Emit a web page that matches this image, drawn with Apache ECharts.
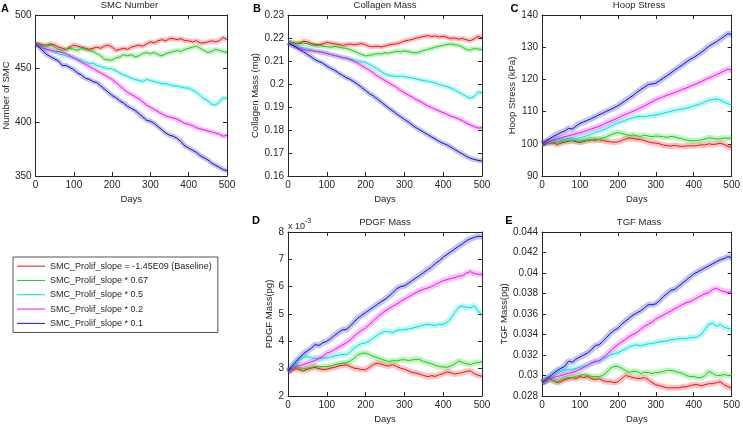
<!DOCTYPE html>
<html><head><meta charset="utf-8">
<script src="https://cdn.jsdelivr.net/npm/echarts@6/dist/echarts.min.js"></script>
<style>html,body{margin:0;padding:0;background:#fff}#c{width:743px;height:431px}</style>
</head><body><div id="c"></div>
<script>
// ---------------- DATA ----------------
const days = [0,10,20,30,40,50,60,70,80,90,100,110,120,130,140,150,160,170,180,190,200,210,220,230,240,250,260,270,280,290,300,310,320,330,340,350,360,370,380,390,400,410,420,430,440,450,460,470,480,490,500];
const seriesNames = ['SMC_Prolif_slope = -1.45E09 (Baseline)','SMC_Prolif_slope * 0.67','SMC_Prolif_slope * 0.5','SMC_Prolif_slope * 0.2','SMC_Prolif_slope * 0.1'];

// A: SMC Number
const smcBase = [473,473,472,472,473,472,470,469,468,470,472,471,470,469,468,469,470,469,471,472,470,467,468,469,468,470,471,472,471,473,475,474,476,477,476,478,478,477,478,476,476,475,476,474,474,475,476,475,476,479,477];
const smc067 = [473,472,471,471,472,470,468,467,468,469,468,467,469,468,467,466,464,462,459,458,458,460,461,463,462,463,461,462,464,465,464,465,463,462,464,465,466,467,466,468,469,470,471,469,467,465,466,468,467,466,465];
const smc05 = [473,471,469,468,467,466,464,463,462,461,460,459,458,456,455,455,453,452,451,450,450,448,446,444,443,441,440,439,438,440,439,438,437,436,436,435,434,434,433,432,432,430,428,425,422,420,417,416,419,423,422];
const smc02 = [473,471,469,468,467,466,466,465,464,462,460,458,456,454,452,450,448,446,444,442,440,437,434,431,428,426,424,422,419,416,414,412,410,408,406,405,404,403,401,399,398,397,395,394,393,392,391,390,389,387,388];
const smc01 = [473,470,466,463,461,459,457,453,453,451,449,446,444,441,440,438,437,434,431,428,425,423,420,418,415,413,411,408,405,402,401,399,396,393,390,388,387,385,382,378,376,374,372,369,367,365,362,360,358,356,355];
const smcTicks = [350,400,450,500];

// B: Collagen Mass (mg)
const colBase = [.2180,.2180,.2177,.2179,.2186,.2183,.2176,.2172,.2170,.2175,.2181,.2178,.2175,.2172,.2168,.2171,.2174,.2170,.2173,.2176,.2170,.2163,.2162,.2164,.2161,.2165,.2170,.2173,.2175,.2180,.2187,.2190,.2194,.2199,.2203,.2207,.2210,.2206,.2209,.2204,.2207,.2202,.2198,.2200,.2195,.2198,.2192,.2188,.2196,.2207,.2201];
const col067 = [.2180,.2179,.2176,.2175,.2178,.2175,.2170,.2166,.2168,.2165,.2162,.2160,.2163,.2160,.2157,.2155,.2150,.2143,.2135,.2128,.2122,.2125,.2128,.2132,.2130,.2136,.2134,.2138,.2142,.2140,.2144,.2141,.2137,.2135,.2140,.2146,.2150,.2155,.2160,.2164,.2168,.2172,.2174,.2170,.2168,.2160,.2150,.2147,.2155,.2152,.2150];
const col05 = [.2180,.2172,.2165,.2160,.2157,.2153,.2148,.2143,.2140,.2137,.2133,.2129,.2124,.2120,.2115,.2112,.2108,.2104,.2100,.2097,.2094,.2085,.2075,.2065,.2055,.2043,.2037,.2035,.2032,.2034,.2032,.2029,.2026,.2022,.2018,.2015,.2012,.2008,.2004,.1998,.1993,.1988,.1982,.1975,.1965,.1955,.1945,.1938,.1945,.1965,.1962];
const col02 = [.2180,.2170,.2162,.2155,.2150,.2147,.2145,.2142,.2140,.2137,.2133,.2128,.2124,.2120,.2115,.2112,.2106,.2098,.2090,.2080,.2070,.2060,.2048,.2035,.2025,.2015,.2005,.1995,.1985,.1972,.1962,.1952,.1943,.1932,.1925,.1915,.1905,.1898,.1890,.1882,.1875,.1868,.1860,.1855,.1848,.1840,.1830,.1822,.1815,.1808,.1810];
const col01 = [.2180,.2170,.2160,.2150,.2140,.2128,.2118,.2105,.2098,.2090,.2078,.2068,.2060,.2048,.2038,.2028,.2020,.2010,.1998,.1985,.1972,.1958,.1948,.1935,.1922,.1908,.1895,.1883,.1870,.1858,.1846,.1835,.1822,.1810,.1800,.1790,.1780,.1770,.1760,.1750,.1742,.1735,.1725,.1715,.1705,.1695,.1685,.1677,.1672,.1668,.1665];
const colTicks = [0.16,0.17,0.18,0.19,0.2,0.21,0.22,0.23];

// C: Hoop Stress (kPa)
const hoopBase = [100,100.1,100.3,100.2,99.8,100.2,100.5,100.8,101.0,100.6,100.4,100.7,101.0,101.2,101.1,101.3,101.0,100.8,100.6,100.5,100.6,101.0,101.5,101.8,101.7,101.4,101.3,101.0,100.6,100.3,100.2,100.0,99.6,99.4,99.3,99.5,99.3,99.2,99.3,99.4,99.3,99.5,99.7,99.6,100.0,99.8,99.9,100.2,99.8,99.2,98.9];
const hoop067 = [100,100.3,100.6,100.5,100.4,100.7,100.9,101.0,101.1,101.0,100.8,101.0,101.2,101.3,101.5,101.3,101.8,102.2,102.7,103.2,103.5,103.2,102.9,102.6,102.8,102.5,102.3,102.7,102.4,102.2,102.4,102.3,102.2,102.0,102.3,102.1,101.8,101.5,101.2,101.0,100.9,101.0,101.2,101.5,101.9,101.7,101.5,101.6,101.8,101.7,101.8];
const hoop05 = [100,100.4,100.8,101.0,101.2,101.3,101.5,101.6,101.6,101.7,101.8,102.2,102.6,103.0,103.5,103.9,104.3,104.8,105.4,106.0,106.5,106.9,107.3,107.7,108.1,108.4,108.5,108.4,108.6,108.8,109.0,109.2,109.5,109.8,110.1,110.4,110.6,110.8,111.0,111.4,111.8,112.1,112.5,113.0,113.5,113.7,114.0,113.6,113.0,112.4,112.1];
const hoop02 = [100,100.4,100.8,101.1,101.5,101.8,102.2,102.5,102.8,103.1,103.4,103.8,104.2,104.6,105.0,105.4,105.9,106.5,107.0,107.5,108.0,108.6,109.1,109.6,110.1,110.6,111.2,111.8,112.4,113.0,113.7,114.1,114.6,115.1,115.5,115.9,116.4,116.9,117.3,117.8,118.3,118.8,119.3,119.9,120.5,120.9,121.5,122.0,122.6,123.2,122.8];
const hoop01 = [100,100.8,101.6,102.3,102.9,103.5,104.0,104.8,104.6,105.5,106.3,106.8,107.3,107.8,108.4,109.0,109.5,110.1,110.6,111.2,111.8,112.6,113.4,114.2,115.0,116.0,116.8,117.6,118.4,118.6,118.8,119.6,120.4,121.2,122.0,122.9,123.7,124.5,125.4,126.2,126.8,127.6,128.4,129.3,130.3,131.0,131.7,132.5,133.3,134.2,134.0];
const hoopTicks = [90,100,110,120,130,140];

// D: PDGF Mass (pg), in units of 1e-3
const pdgfBase = [2.90,2.95,3.00,2.96,2.92,2.98,3.02,3.05,3.00,2.97,2.98,3.02,3.05,3.10,3.12,3.14,3.08,3.02,3.00,2.97,2.96,3.05,3.15,3.20,3.17,3.12,3.10,3.15,3.08,3.02,2.98,2.92,2.86,2.84,2.80,2.75,2.71,2.74,2.72,2.78,2.82,2.88,2.85,2.80,2.83,2.86,2.90,2.92,2.82,2.76,2.72];
const pdgf067 = [2.90,2.97,3.05,3.02,3.00,3.02,3.05,3.08,3.06,3.08,3.08,3.10,3.14,3.18,3.20,3.22,3.28,3.38,3.50,3.56,3.57,3.52,3.45,3.40,3.35,3.30,3.26,3.30,3.28,3.32,3.33,3.30,3.32,3.35,3.33,3.26,3.22,3.18,3.12,3.08,3.06,3.05,3.10,3.18,3.28,3.22,3.18,3.15,3.20,3.22,3.26];
const pdgf05 = [2.90,3.05,3.20,3.35,3.42,3.45,3.40,3.38,3.36,3.38,3.39,3.42,3.46,3.50,3.52,3.51,3.60,3.75,3.85,3.92,3.94,4.02,4.12,4.22,4.30,4.37,4.35,4.32,4.40,4.42,4.43,4.45,4.48,4.52,4.55,4.60,4.62,4.60,4.58,4.62,4.62,4.70,4.85,5.05,5.25,5.29,5.25,5.23,5.30,5.10,4.99];
const pdgf02 = [2.90,3.00,3.08,3.12,3.15,3.20,3.25,3.30,3.38,3.45,3.57,3.62,3.70,3.78,3.86,3.94,4.05,4.18,4.30,4.40,4.49,4.62,4.75,4.88,5.00,5.11,5.20,5.28,5.36,5.45,5.54,5.62,5.70,5.78,5.85,5.91,5.95,6.00,6.08,6.15,6.22,6.26,6.30,6.33,6.38,6.40,6.50,6.55,6.48,6.45,6.46];
const pdgf01 = [2.90,3.08,3.25,3.40,3.55,3.65,3.75,3.88,3.85,3.95,4.00,4.10,4.22,4.32,4.42,4.43,4.55,4.70,4.85,4.95,5.05,5.15,5.25,5.35,5.45,5.54,5.65,5.78,5.92,6.00,6.03,6.12,6.22,6.32,6.42,6.52,6.62,6.72,6.85,6.95,7.08,7.18,7.28,7.38,7.48,7.57,7.68,7.75,7.80,7.85,7.82];
const pdgfTicks = [2,3,4,5,6,7,8];

// E: TGF Mass (pg)
const tgfBase = [.0293,.0295,.0297,.0295,.0293,.0294,.0296,.0297,.0298,.0297,.0299,.0298,.0299,.0297,.0296,.0297,.0295,.0294,.0294,.0293,.0294,.0297,.0300,.0299,.0298,.0297,.0297,.0298,.0296,.0293,.0291,.0290,.0289,.0288,.0288,.0288,.0288,.0289,.0289,.0290,.0291,.0291,.0290,.0291,.0292,.0292,.0293,.0294,.0291,.0289,.0288];
const tgf067 = [.0293,.0294,.0296,.0295,.0294,.0296,.0297,.0298,.0298,.0299,.0300,.0301,.0300,.0299,.0299,.0299,.0300,.0303,.0307,.0309,.0309,.0307,.0305,.0303,.0304,.0304,.0302,.0303,.0303,.0302,.0303,.0303,.0304,.0305,.0305,.0304,.0303,.0302,.0300,.0299,.0299,.0298,.0298,.0300,.0304,.0302,.0300,.0300,.0301,.0300,.0300];
const tgf05 = [.0293,.0296,.0299,.0301,.0303,.0304,.0305,.0306,.0306,.0307,.0308,.0309,.0310,.0312,.0313,.0314,.0316,.0318,.0320,.0321,.0322,.0324,.0326,.0328,.0329,.0330,.0329,.0330,.0331,.0331,.0332,.0333,.0333,.0334,.0335,.0335,.0336,.0336,.0336,.0337,.0337,.0338,.0340,.0345,.0350,.0351,.0348,.0350,.0347,.0346,.0345];
const tgf02 = [.0293,.0295,.0297,.0298,.0299,.0300,.0301,.0302,.0303,.0304,.0306,.0308,.0310,.0312,.0314,.0314,.0317,.0320,.0324,.0327,.0330,.0333,.0335,.0338,.0340,.0342,.0345,.0348,.0350,.0352,.0355,.0357,.0359,.0361,.0363,.0365,.0367,.0369,.0371,.0372,.0374,.0376,.0378,.0380,.0381,.0384,.0385,.0383,.0382,.0381,.0382];
const tgf01 = [.0293,.0296,.0299,.0302,.0305,.0307,.0309,.0314,.0313,.0316,.0318,.0320,.0322,.0325,.0329,.0330,.0333,.0337,.0341,.0344,.0346,.0350,.0353,.0356,.0359,.0361,.0363,.0366,.0369,.0369,.0370,.0373,.0377,.0380,.0383,.0384,.0387,.0390,.0393,.0396,.0399,.0401,.0403,.0405,.0407,.0409,.0411,.0413,.0414,.0416,.0415];
const tgfTicks = [0.028,0.03,0.032,0.034,0.036,0.038,0.04,0.042,0.044];

const dayTicks = [0,100,200,300,400,500];

// ---------------- LAYOUT / STYLE ----------------
const FONT = '"Liberation Sans", Arial, Helvetica, sans-serif';
const INK = '#262626';
const colors = ['#ee1010','#18cc18','#00dede','#ee10ee','#1010cc'];
const panels = [
  {letter:'A', title:'SMC Number', yName:'Number of SMC', series:[smcBase,smc067,smc05,smc02,smc01], ticks:smcTicks, left:32, top:15, width:195, height:161, gap:22, band:5, lx:5, ly:8.5},
  {letter:'B', title:'Collagen Mass', yName:'Collagen Mass (mg)', series:[colBase,col067,col05,col02,col01], ticks:colTicks, left:288, top:15, width:194, height:161, gap:27, band:5, lx:257, ly:8.5},
  {letter:'C', title:'Hoop Stress', yName:'Hoop Stress (kPa)', series:[hoopBase,hoop067,hoop05,hoop02,hoop01], ticks:hoopTicks, left:542, top:15, width:194, height:161, gap:23, band:6, lx:514.5, ly:8.5},
  {letter:'D', title:'PDGF Mass', yName:'PDGF Mass(pg)', series:[pdgfBase,pdgf067,pdgf05,pdgf02,pdgf01], ticks:pdgfTicks, left:288, top:232, width:194, height:164, gap:13, band:6, lx:256, ly:220.5},
  {letter:'E', title:'TGF Mass', yName:'TGF Mass(pg)', series:[tgfBase,tgf067,tgf05,tgf02,tgf01], ticks:tgfTicks, left:542, top:232, width:194, height:164, gap:31, band:6, lx:509, ly:220.5}
];

const grids = [], xAxes = [], yAxes = [], series = [], graphics = [];
const lineAx = {show:true, onZero:false, lineStyle:{color:INK, width:1}};
const tickAx = {show:true, inside:true, length:4, lineStyle:{color:INK, width:1}};
const lblStyle = {fontSize:10, color:INK, fontFamily:FONT};

panels.forEach((p, i) => {
  grids.push({left:p.left, top:p.top, width:p.width, height:p.height, show:false});
  const xmin = dayTicks[0], xmax = dayTicks[dayTicks.length-1], xint = dayTicks[1]-dayTicks[0];
  xAxes.push({gridIndex:i, type:'value', position:'bottom', min:xmin, max:xmax, interval:xint,
    axisLine:lineAx, axisTick:tickAx, splitLine:{show:false},
    axisLabel:Object.assign({margin:4}, lblStyle),
    name:'Days', nameLocation:'middle', nameGap:18, nameTextStyle:{fontSize:9.5, color:INK, fontFamily:FONT}});
  xAxes.push({gridIndex:i, type:'value', position:'top', min:xmin, max:xmax, interval:xint,
    axisLine:lineAx, axisTick:tickAx, splitLine:{show:false}, axisLabel:{show:false}});
  const t = p.ticks;
  const ymin = t[0], ymax = t[t.length-1], yint = +(t[1]-t[0]).toFixed(6);
  yAxes.push({gridIndex:i, type:'value', position:'left', min:ymin, max:ymax, interval:yint,
    axisLine:lineAx, axisTick:tickAx, splitLine:{show:false},
    axisLabel:Object.assign({margin:4}, lblStyle),
    name:p.yName, nameLocation:'middle', nameGap:p.gap, nameTextStyle:{fontSize:9.5, color:INK, fontFamily:FONT}});
  yAxes.push({gridIndex:i, type:'value', position:'right', min:ymin, max:ymax, interval:yint,
    axisLine:lineAx, axisTick:tickAx, splitLine:{show:false}, axisLabel:{show:false}});

  p.series.forEach((vals, s) => {
    const pts = days.map((d, k) => [d, vals[k]]);
    series.push({type:'line', name:seriesNames[s] + ' band', xAxisIndex:2*i, yAxisIndex:2*i, data:pts,
      symbol:'none', silent:true, lineStyle:{color:colors[s], width:p.band, opacity:0.25}, z:2});
    series.push({type:'line', name:seriesNames[s], xAxisIndex:2*i, yAxisIndex:2*i, data:pts,
      symbol:'none', silent:true, lineStyle:{color:colors[s], width:1}, itemStyle:{color:colors[s]}, z:3});
  });

  graphics.push({type:'text', x:p.left + p.width/2, y:p.top - 10, style:{text:p.title, fontSize:9.5, fontFamily:FONT, fill:INK, align:'center', verticalAlign:'middle'}});
  graphics.push({type:'text', x:p.lx, y:p.ly, style:{text:p.letter, fontSize:11, fontWeight:'bold', fontFamily:FONT, fill:'#000', align:'center', verticalAlign:'middle'}});
});

// PDGF multiplier
graphics.push({type:'text', x:288, y:227, style:{text:'x 10', fontSize:9, fontFamily:FONT, fill:INK, align:'left', verticalAlign:'middle'}});
graphics.push({type:'text', x:305, y:221, style:{text:'-3', fontSize:7, fontFamily:FONT, fill:INK, align:'left', verticalAlign:'middle'}});

const chart = echarts.init(document.getElementById('c'), null, {renderer:'canvas'});
chart.setOption({
  animation:false,
  backgroundColor:'#fff',
  grid:grids, xAxis:xAxes, yAxis:yAxes, series:series, graphic:graphics,
  legend:{show:true, data:seriesNames, orient:'vertical', left:13, top:257,
    padding:[4,6,4,4], itemWidth:28, itemHeight:1, itemGap:4, icon:'rect',
    borderColor:'#555', borderWidth:1, selectedMode:false,
    textStyle:{fontSize:9, lineHeight:10.3, color:INK, fontFamily:FONT}}
});
</script>
</body></html>
